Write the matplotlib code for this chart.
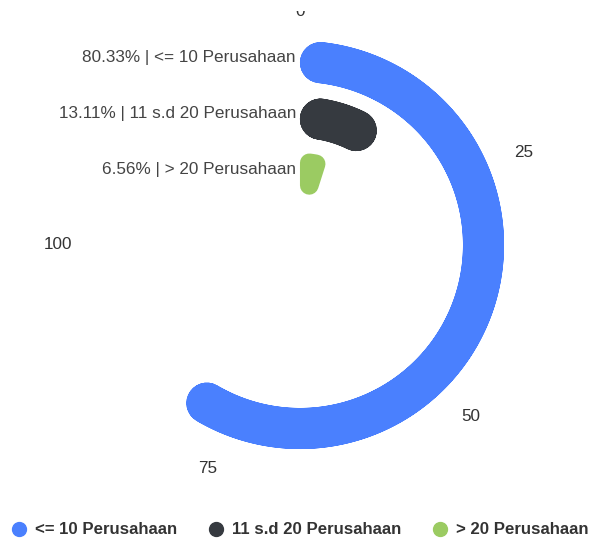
import numpy as np
import matplotlib
matplotlib.use('Agg')
import matplotlib.pyplot as plt
from matplotlib.lines import Line2D
from matplotlib.patches import Rectangle

plt.rcParams['font.family'] = ['Liberation Sans', 'DejaVu Sans']

# data
categories = ['<= 10 Perusahaan', '11 s.d 20 Perusahaan', '> 20 Perusahaan']
values = [80.33, 13.11, 6.56]
colors = ['#4a80fe', '#363a40', '#9bcb62']
angle_ticks = [0, 25, 50, 75, 100]
angle_max = 133.33

W, H, DPI = 592, 541, 100
fig = plt.figure(figsize=(W / DPI, H / DPI), dpi=DPI)

# polar area: centre (300, 245) px from top-left, radius 210 px
cx, cy, R = 300, 245, 210
ax = fig.add_axes([(cx - R) / W, (H - cy - R) / H, 2 * R / W, 2 * R / H],
                  projection='polar')
ax.set_theta_zero_location('N')
ax.set_theta_direction(-1)

rmin, rmax = -1.277, 2.473
ax.set_rlim(rmin, rmax)
ax.set_xlim(0, 2 * np.pi)
ax.grid(False)
ax.spines['polar'].set_visible(False)
ax.set_yticks([])
ax.set_xticks([v / angle_max * 2 * np.pi for v in angle_ticks])
# the "0" label sits closer to the circle, drawn separately below
ax.set_xticklabels(['' if v == 0 else str(v) for v in angle_ticks],
                   fontsize=12.3, color='#333333')
ax.tick_params(axis='x', pad=16, length=0)
ax.annotate(str(angle_ticks[0]), xy=(0, rmax), xytext=(0, 24),
            textcoords='offset pixels', ha='center', va='center',
            fontsize=12.3, color='#333333', annotation_clip=False)

k = R / (rmax - rmin)          # pixels per radial unit
half_w = 0.366                 # half bar width in radial units
lw_scale = 72.0 / DPI


def to_r(px):
    return px / k + rmin


def rounded_bar(value, rc, color):
    th = value / angle_max * 2 * np.pi
    r_in = (rc - half_w - rmin) * k
    r_out = (rc + half_w - rmin) * k
    hw = half_w * k
    if th >= 2:
        c = hw
    else:
        c = min(hw, th * r_in / (2 - th))
    ra, rb = r_in + c, r_out - c
    t_out = np.linspace(c / rb, th - c / rb, 200)
    t_in = np.linspace(th - c / ra, c / ra, 200)
    thetas = np.concatenate([t_out, t_in])
    rs = np.concatenate([np.full(200, to_r(rb)), np.full(200, to_r(ra))])
    ax.fill(thetas, rs, facecolor=color, edgecolor=color,
            linewidth=2 * c * lw_scale, joinstyle='round', zorder=3)


n = len(categories)
for i, (cat, val, col) in enumerate(zip(categories, values, colors)):
    rc = n - 1 - i
    rounded_bar(val, rc, col)
    ax.annotate(f'{val:.2f}% | {cat}', xy=(0, rc), xytext=(-4, 4),
                textcoords='offset pixels', ha='right', va='center',
                fontsize=12.3, color='#444444', annotation_clip=False)

# top of the "0" label is cut off in the original
fig.add_artist(Rectangle((0, 1 - 11 / H), 1, 11 / H, transform=fig.transFigure,
                         facecolor='white', edgecolor='none', zorder=10))

handles = [Line2D([], [], marker='o', linestyle='none', markersize=10,
                  markerfacecolor=c, markeredgecolor=c) for c in colors]
fig.legend(handles, categories, loc='center', bbox_to_anchor=(0.507, 11 / H),
           ncol=3, frameon=False, handlelength=0.8, handletextpad=0.55,
           columnspacing=1.9, prop={'size': 12.1, 'weight': 'bold'},
           labelcolor='#333333')

fig.savefig('out.png', dpi=DPI, facecolor='white')
